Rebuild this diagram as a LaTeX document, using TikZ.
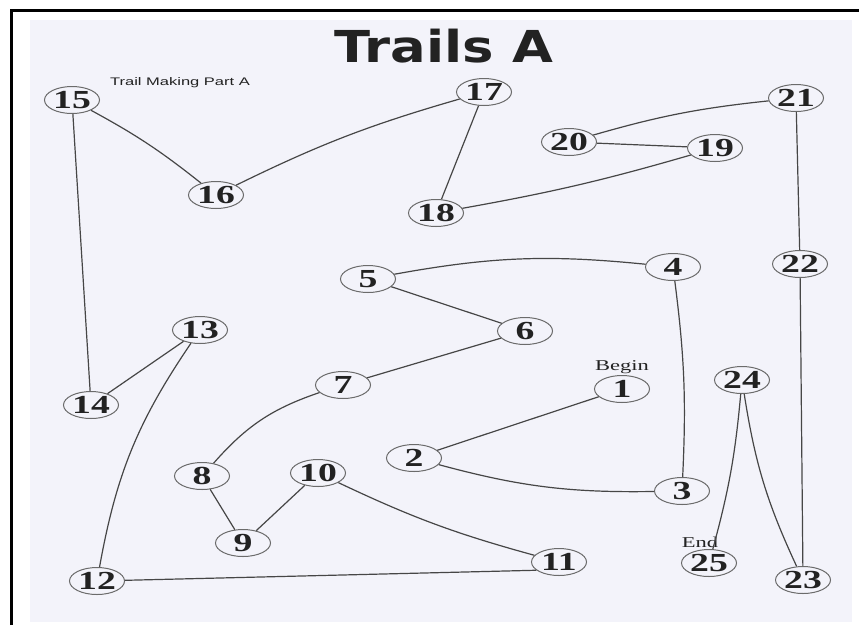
\documentclass[tikz,border=0pt]{standalone}
\usepackage{fontspec}
\setmainfont{Liberation Serif}
\newfontfamily\numfont[FakeStretch=1.45]{Liberation Serif Bold}
\newfontfamily\markfont[FakeStretch=1.5]{Liberation Serif}
\newfontfamily\subfont[FakeStretch=1.5]{Liberation Sans}
\newfontfamily\titlefont[FakeStretch=1.2]{DejaVu Sans Bold}
\usepackage{tikz}
\usetikzlibrary{positioning}
\usetikzlibrary{shapes.geometric}
\definecolor{paper}{RGB}{243,243,250}
\definecolor{pencil}{RGB}{70,70,70}
\definecolor{ink}{RGB}{34,34,34}
\tikzset{
	trailnode/.style={ellipse, draw=pencil!80, line width=1pt, inner sep=0pt,
		minimum width=55pt, minimum height=27pt, text=ink,
		font=\numfont\fontsize{26}{26}\selectfont},
	trailline/.style={draw=pencil, line width=1.2pt},
	marker/.style={text=ink, inner sep=1pt, font=\markfont\fontsize{15}{15}\selectfont}
}
\begin{document}
\begin{tikzpicture}[x=1pt, y=-1pt]
\useasboundingbox (0,0) rectangle (859,625);
\fill[white] (0,0) rectangle (859,625);
\fill[paper] (30,20) rectangle (852,622);
\draw[line width=3pt] (11.5,625) -- (11.5,10.5) -- (859,10.5);

\node (title) at (444,46)
	[text=ink, font=\titlefont\fontsize{44}{44}\selectfont]
	{Trails A};
\node (subtitle) at (180,83)
	[text=ink, font=\subfont\fontsize{11}{11}\selectfont]
	{Trail Making Part A};

\node (n1)  at (622,389) [trailnode] {1};
\node (n2)  at (414,458) [trailnode] {2};
\node (n3)  at (682,491) [trailnode] {3};
\node (n4)  at (673,267) [trailnode] {4};
\node (n5)  at (368,279) [trailnode] {5};
\node (n6)  at (525,331) [trailnode] {6};
\node (n7)  at (343,385) [trailnode] {7};
\node (n8)  at (202,476) [trailnode] {8};
\node (n9)  at (243,543) [trailnode] {9};
\node (n10) at (318,473) [trailnode] {10};
\node (n11) at (559,562) [trailnode] {11};
\node (n12) at (97,581)  [trailnode] {12};
\node (n13) at (200,330) [trailnode] {13};
\node (n14) at (91,405)  [trailnode] {14};
\node (n15) at (72,100)  [trailnode] {15};
\node (n16) at (216,195) [trailnode] {16};
\node (n17) at (484,92)  [trailnode] {17};
\node (n18) at (436,213) [trailnode] {18};
\node (n19) at (715,148) [trailnode] {19};
\node (n20) at (569,142) [trailnode] {20};
\node (n21) at (796,98)  [trailnode] {21};
\node (n22) at (800,264) [trailnode] {22};
\node (n23) at (803,580) [trailnode] {23};
\node (n24) at (742,380) [trailnode] {24};
\node (n25) at (709,563) [trailnode] {25};

\node (begin) [marker, above=0pt of n1] {Begin};
\node (end) [marker, above=0pt of n25, xshift=-9pt] {End};

\draw[trailline] (n1) -- (n2);
\draw[trailline] (n2) to[bend right=8] (n3);
\draw[trailline] (n3) to[bend right=5] (n4);
\draw[trailline] (n4) to[bend right=8] (n5);
\draw[trailline] (n5) -- (n6);
\draw[trailline] (n6) -- (n7);
\draw[trailline] (n7) to[bend right=15] (n8);
\draw[trailline] (n8) -- (n9);
\draw[trailline] (n9) -- (n10);
\draw[trailline] (n10) to[bend right=5] (n11);
\draw[trailline] (n11.200) -- (n12);
\draw[trailline] (n12) to[bend left=12] (n13);
\draw[trailline] (n13) -- (n14);
\draw[trailline] (n14) -- (n15);
\draw[trailline] (n15) to[bend left=5] (n16);
\draw[trailline] (n16) to[bend left=5] (n17);
\draw[trailline] (n17) -- (n18);
\draw[trailline] (n18) to[bend right=3] (n19);
\draw[trailline] (n19) -- (n20);
\draw[trailline] (n20) to[bend left=5] (n21);
\draw[trailline] (n21) -- (n22);
\draw[trailline] (n22) -- (n23);
\draw[trailline] (n23) to[bend left=8] (n24);
\draw[trailline] (n24) to[bend left=5] (n25);
\end{tikzpicture}
\end{document}
